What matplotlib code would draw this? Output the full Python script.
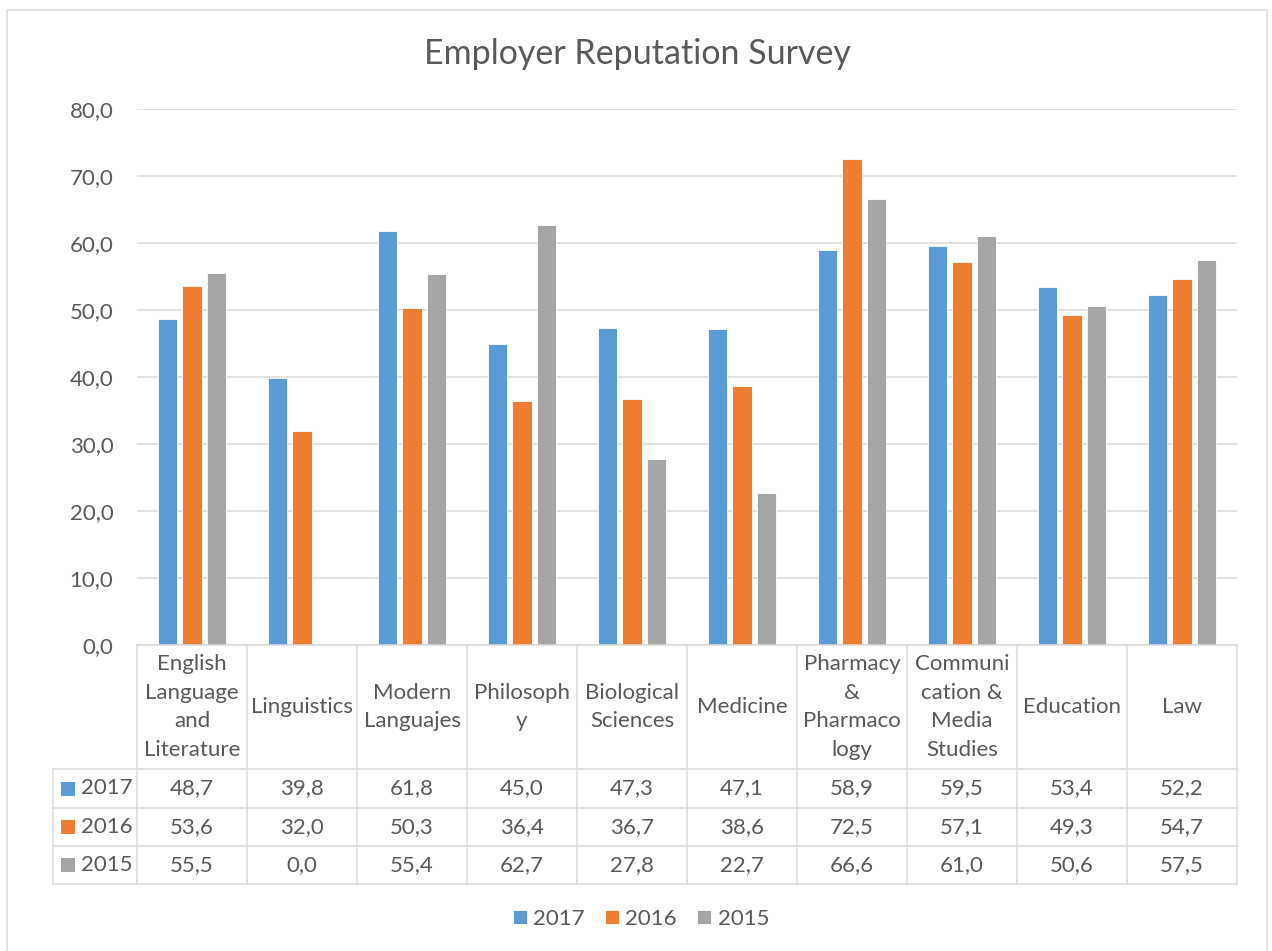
import numpy as np
import matplotlib.pyplot as plt
import matplotlib.transforms as mtransforms
from matplotlib.patches import Rectangle
from matplotlib.lines import Line2D

# data
categories = ["English\nLanguage\nand\nLiterature", "Linguistics", "Modern\nLanguajes",
              "Philosoph\ny", "Biological\nSciences", "Medicine",
              "Pharmacy\n&\nPharmaco\nlogy", "Communi\ncation &\nMedia\nStudies",
              "Education", "Law"]
years = ["2017", "2016", "2015"]
values_2017 = [48.7, 39.8, 61.8, 45.0, 47.3, 47.1, 58.9, 59.5, 53.4, 52.2]
values_2016 = [53.6, 32.0, 50.3, 36.4, 36.7, 38.6, 72.5, 57.1, 49.3, 54.7]
values_2015 = [55.5, 0.0, 55.4, 62.7, 27.8, 22.7, 66.6, 61.0, 50.6, 57.5]
series = [values_2017, values_2016, values_2015]
colors = ["#5B9BD5", "#ED7D31", "#A5A5A5"]

TXT = "#595959"
GRID = "#D9D9D9"
FS = 16
plt.rcParams['font.family'] = ['Lato', 'DejaVu Sans']

W, H = 1272, 951
fig = plt.figure(figsize=(W / 100, H / 100), dpi=100)


def fx(px):
    return px / W


def fy(py):
    return 1 - py / H


# plot area in pixels: left 137, right 1237, top 109, bottom 645
ax = fig.add_axes([fx(137), fy(645), fx(1237) - fx(137), fy(109) - fy(645)])

x = np.arange(len(categories))
step = 0.223
width = 0.18
bars = []
for i, (vals, col, yr) in enumerate(zip(series, colors, years)):
    b = ax.bar(x + (i - 1) * step, vals, width, color=col, edgecolor="white",
               linewidth=0.6, label=yr, zorder=3)
    bars.append(b)

ax.set_xlim(-0.5, len(categories) - 0.5)
ax.set_ylim(0, 80)
ax.set_yticks(np.arange(0, 81, 10))
ax.set_yticklabels([f"{v:.1f}".replace(".", ",") for v in np.arange(0, 81, 10)])
ax.set_xticks([])
ax.tick_params(axis="y", length=0, pad=17, labelsize=FS, labelcolor=TXT)
ax.grid(axis="y", color=GRID, linewidth=1.1, zorder=0)
for s in ["top", "right", "left", "bottom"]:
    ax.spines[s].set_visible(False)

# data table under the plot
trans = mtransforms.blended_transform_factory(ax.transData, fig.transFigure)
n = len(categories)
lab_left = -0.5 - (137 - 53) / 110.0
row_lines = [645, 769, 808, 846, 884]


def hline(x0, x1, py):
    fig.add_artist(Line2D([x0, x1], [fy(py), fy(py)], transform=trans,
                          color=GRID, linewidth=1.1, clip_on=False))


def vline(xx, py0, py1):
    fig.add_artist(Line2D([xx, xx], [fy(py0), fy(py1)], transform=trans,
                          color=GRID, linewidth=1.1, clip_on=False))


hline(-0.5, n - 0.5, row_lines[0])
for py in row_lines[1:]:
    hline(lab_left, n - 0.5, py)
for k in range(n + 1):
    vline(k - 0.5, row_lines[0], row_lines[-1])
vline(lab_left, row_lines[1], row_lines[-1])

for i, cat in enumerate(categories):
    fig.text(i, fy((row_lines[0] + row_lines[1]) / 2), cat, transform=trans,
             ha="center", va="center", color=TXT, fontsize=FS, linespacing=1.55)

for r, (vals, col, yr) in enumerate(zip(series, colors, years)):
    yc = fy((row_lines[r + 1] + row_lines[r + 2]) / 2)
    for i, v in enumerate(vals):
        fig.text(i, yc, f"{v:.1f}".replace(".", ","), transform=trans,
                 ha="center", va="center", color=TXT, fontsize=FS)
    fig.add_artist(Rectangle((fx(61), yc - 7 / H), 14 / W, 14 / H,
                             transform=fig.transFigure, facecolor=col,
                             edgecolor="none"))
    fig.text(fx(81), yc, yr, ha="left", va="center", color=TXT, fontsize=FS)

fig.suptitle("Employer Reputation Survey", x=fx(637), y=fy(54), va="center",
             color=TXT, fontsize=24.5)

fig.legend(handles=bars, labels=years, loc="center", bbox_to_anchor=(fx(641), fy(919)),
           ncol=3, frameon=False, fontsize=FS, labelcolor=TXT,
           handlelength=0.62, handleheight=0.62, handletextpad=0.3,
           columnspacing=0.9)

# outer chart border
fig.add_artist(Rectangle((fx(7), fy(960)), fx(1267) - fx(7), fy(10) - fy(960),
                         transform=fig.transFigure, facecolor="none",
                         edgecolor=GRID, linewidth=1.1))

fig.savefig("out.png", dpi=100)
